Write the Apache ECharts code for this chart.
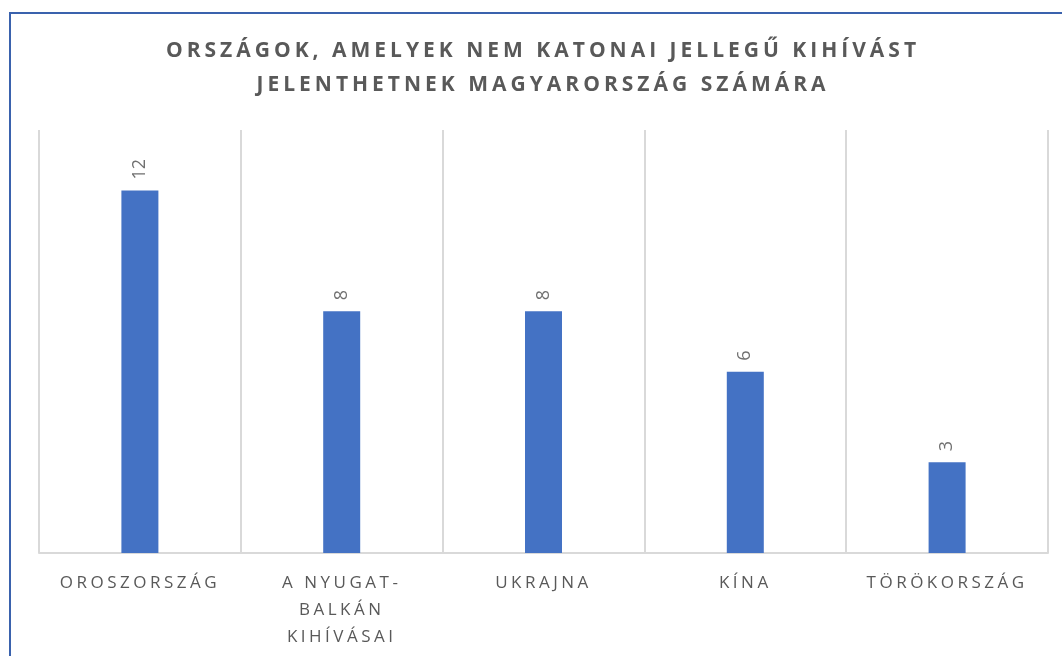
<!DOCTYPE html>
<html>
<head>
<meta charset="utf-8">
<script src="https://cdn.jsdelivr.net/npm/echarts@6/dist/echarts.min.js"></script>
<style>
html,body{margin:0;padding:0;background:#fff;}
#frame{position:absolute;left:9px;top:12px;width:1100px;height:700px;border-left:2px solid #3a62ad;border-top:2px solid #3a62ad;pointer-events:none;z-index:2;}
#chart{position:absolute;left:0;top:0;width:1062px;height:656px;}
</style>
</head>
<body>
<div id="chart"></div>
<div id="frame"></div>
<script>
const titleText = 'ORSZÁGOK, AMELYEK NEM KATONAI JELLEGŰ KIHÍVÁST\nJELENTHETNEK MAGYARORSZÁG SZÁMÁRA';
const categories = ['OROSZORSZÁG', 'A NYUGAT-BALKÁN KIHÍVÁSAI', 'UKRAJNA', 'KÍNA', 'TÖRÖKORSZÁG'];
const values = [12, 8, 8, 6, 3];

// letter spacing for the title and category labels (canvas letterSpacing)
const origFill = CanvasRenderingContext2D.prototype.fillText;
CanvasRenderingContext2D.prototype.fillText = function (t, x, y, m) {
  const f = this.font || '';
  let ls = '0px';
  if (/bold|700/.test(f)) ls = '4px';
  else if (/\b17px/.test(f)) ls = '3.5px';
  if ('letterSpacing' in this) this.letterSpacing = ls;
  return m === undefined ? origFill.call(this, t, x, y) : origFill.call(this, t, x, y, m);
};

function wrap(s) {
  const parts = s.replace(/-/g, '- ').split(' ').filter(Boolean);
  const lines = [];
  let cur = '';
  parts.forEach(p => {
    const sep = cur === '' || cur.endsWith('-') ? '' : ' ';
    if (cur && (cur + sep + p).length > 10) { lines.push(cur); cur = p; }
    else cur = cur + sep + p;
  });
  if (cur) lines.push(cur);
  return lines.join('\n');
}

const chart = echarts.init(document.getElementById('chart'), null, {renderer: 'canvas'});
chart.setOption({
  animation: false,
  backgroundColor: '#fff',
  graphic: [{
    type: 'text',
    left: 543 - 400,
    top: 34,
    style: {
      text: titleText,
      x: 400,
      width: 800,
      align: 'center',
      textAlign: 'center',
      fill: '#595959',
      font: 'bold 21px "Open Sans", sans-serif',
      lineHeight: 34
    }
  }],
  grid: {left: 39, right: 14, top: 130, bottom: 103, containLabel: false},
  xAxis: {
    type: 'category',
    data: categories,
    axisLine: {show: true, lineStyle: {color: '#d9d9d9', width: 2}},
    axisTick: {show: false},
    splitLine: {show: true, lineStyle: {color: '#d9d9d9', width: 2}},
    axisLabel: {
      interval: 0,
      margin: 17,
      color: '#595959',
      fontFamily: '"Open Sans", sans-serif',
      fontSize: 17,
      lineHeight: 27,
      formatter: wrap
    }
  },
  yAxis: {
    type: 'value',
    min: 0,
    max: 14,
    show: false,
    splitLine: {show: false}
  },
  series: [{
    type: 'bar',
    data: values,
    barWidth: 37,
    itemStyle: {color: '#4472C4'},
    label: {
      show: true,
      position: 'top',
      rotate: 90,
      align: 'left',
      verticalAlign: 'middle',
      distance: 11,
      color: '#707070',
      fontFamily: '"Open Sans", sans-serif',
      fontSize: 18
    }
  }]
});
</script>
</body>
</html>
